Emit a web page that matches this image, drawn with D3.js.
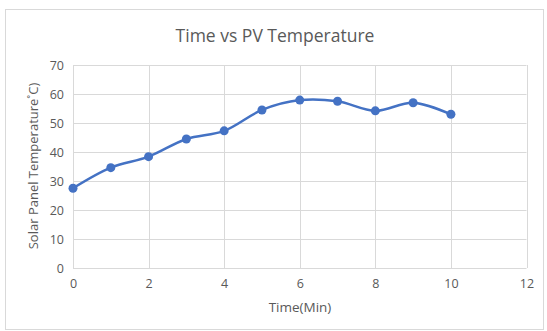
<!DOCTYPE html>
<html>
<head>
<meta charset="utf-8">
<script src="https://cdn.jsdelivr.net/npm/d3@7"></script>
<style>
  body { margin: 0; background: #fff; }
  text { font-family: "Open Sans", "Noto Sans", sans-serif; }
</style>
</head>
<body>
<svg id="chart" width="547" height="331"></svg>
<script>
// data
const times = [0, 1, 2, 3, 4, 5, 6, 7, 8, 9, 10];
const temps = [27.5, 34.6, 38.4, 44.5, 47.3, 54.5, 57.9, 57.5, 54.2, 57.0, 53.0];
const xTicks = [0, 2, 4, 6, 8, 10, 12];
const yTicks = [0, 10, 20, 30, 40, 50, 60, 70];

const svg = d3.select("#chart");
const plotLeft = 73, plotRight = 526.5, plotTop = 65, plotBottom = 268;

// chart frame
svg.append("rect")
    .attr("x", 5.5).attr("y", 9.5)
    .attr("width", 538).attr("height", 320)
    .attr("fill", "#fff")
    .attr("stroke", "#d9d9d9");

const x = d3.scaleLinear().domain([0, 12]).range([plotLeft, plotRight]);
const y = d3.scaleLinear().domain([0, 70]).range([plotBottom, plotTop]);

// gridlines
svg.append("g")
    .selectAll("line")
    .data(yTicks)
    .enter().append("line")
    .attr("x1", plotLeft).attr("x2", plotRight)
    .attr("y1", d => Math.round(y(d)) + 0.5)
    .attr("y2", d => Math.round(y(d)) + 0.5)
    .attr("stroke", "#d9d9d9");

svg.append("g")
    .selectAll("line")
    .data(xTicks)
    .enter().append("line")
    .attr("y1", plotTop).attr("y2", plotBottom)
    .attr("x1", d => Math.round(x(d)) + 0.5)
    .attr("x2", d => Math.round(x(d)) + 0.5)
    .attr("stroke", "#d9d9d9");

// axes (labels only, Excel style)
const xAxis = svg.append("g")
    .attr("transform", "translate(0," + plotBottom + ")")
    .call(d3.axisBottom(x).tickValues(xTicks).tickSize(0).tickPadding(11));
const yAxis = svg.append("g")
    .attr("transform", "translate(" + plotLeft + ",0)")
    .call(d3.axisLeft(y).tickValues(yTicks).tickSize(0).tickPadding(9));

[xAxis, yAxis].forEach(function(a) {
    a.select(".domain").remove();
    a.selectAll("text")
        .attr("fill", "#595959")
        .style("font-size", "12.5px")
        .style("font-family", "'Open Sans', 'Noto Sans', sans-serif");
});

// line
const line = d3.line()
    .x(function(d, i) { return x(times[i]); })
    .y(function(d) { return y(d); })
    .curve(d3.curveCatmullRom.alpha(0.5));

svg.append("path")
    .datum(temps)
    .attr("d", line)
    .attr("fill", "none")
    .attr("stroke", "#4472c4")
    .attr("stroke-width", 2.5);

svg.append("g")
    .selectAll("circle")
    .data(temps)
    .enter().append("circle")
    .attr("cx", function(d, i) { return x(times[i]); })
    .attr("cy", function(d) { return y(d); })
    .attr("r", 4.5)
    .attr("fill", "#4472c4");

// titles
svg.append("text")
    .attr("x", 275).attr("y", 42)
    .attr("text-anchor", "middle")
    .attr("fill", "#595959")
    .style("font-size", "17.5px")
    .text("Time vs PV Temperature");

svg.append("text")
    .attr("x", 300).attr("y", 312)
    .attr("text-anchor", "middle")
    .attr("fill", "#595959")
    .style("font-size", "13.5px")
    .text("Time(Min)");

svg.append("text")
    .attr("transform", "translate(38,166) rotate(-90)")
    .attr("text-anchor", "middle")
    .attr("fill", "#595959")
    .style("font-size", "13px")
    .text("Solar Panel Temperature˚C)");
</script>
</body>
</html>
